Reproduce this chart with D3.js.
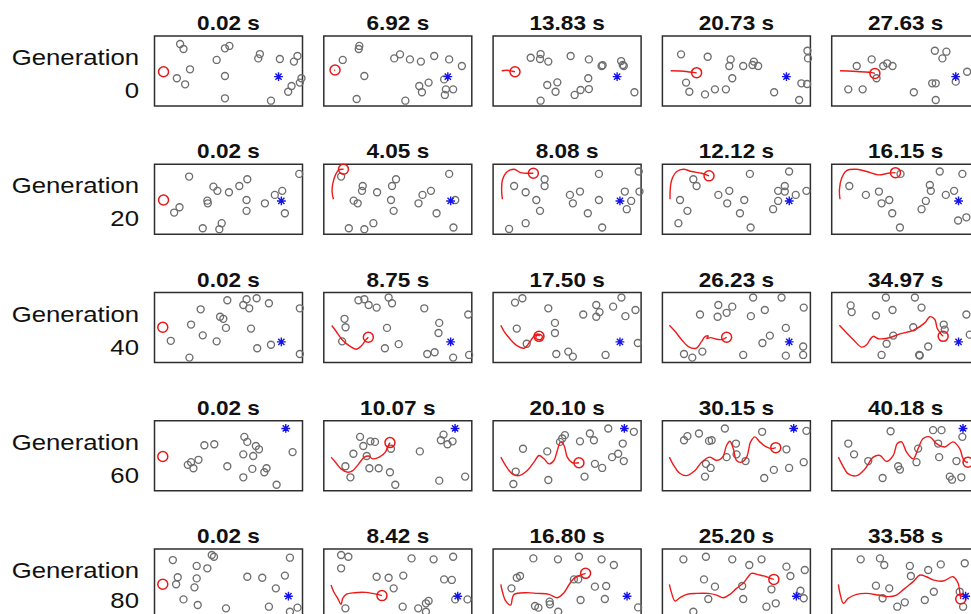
<!DOCTYPE html>
<html><head><meta charset="utf-8">
<script src="https://cdn.jsdelivr.net/npm/d3@7"></script>
<style>body{margin:0;background:#fff}svg{display:block}</style>
</head><body>
<svg id="c" width="971" height="614"></svg>
<script>
const generations = [0, 20, 40, 60, 80];
const timeLabels = [
  ["0.02 s","6.92 s","13.83 s","20.73 s","27.63 s"],
  ["0.02 s","4.05 s","8.08 s","12.12 s","16.15 s"],
  ["0.02 s","8.75 s","17.50 s","26.23 s","34.97 s"],
  ["0.02 s","10.07 s","20.10 s","30.15 s","40.18 s"],
  ["0.02 s","8.42 s","16.80 s","25.20 s","33.58 s"]
];
const targets = [[8.38,2.10],[8.57,2.38],[8.57,1.47],[8.87,4.45],[9.05,1.63]];

const obstaclesG0 = [
  [[1.73,4.43],[1.96,4.07],[2.40,2.62],[1.51,1.98],[2.07,1.55],[4.20,3.29],[4.76,4.12],[5.06,4.29],[4.76,2.14],[4.76,0.55],[7.01,3.40],[7.12,3.71],[8.47,3.36],[9.42,3.17],[9.66,3.57],[9.93,1.98],[9.82,1.67],[9.26,1.43],[9.03,1.02],[7.87,0.38]],
  [[2.40,4.29],[2.36,4.07],[1.28,3.29],[2.74,2.14],[2.22,0.50],[4.76,3.40],[5.15,3.69],[5.82,3.33],[6.56,3.17],[7.46,3.57],[8.47,3.33],[9.33,2.86],[8.13,1.90],[6.45,1.43],[7.08,1.67],[6.63,0.98],[8.25,1.19],[8.74,1.19],[8.18,0.79],[5.51,0.38]],
  [[2.54,3.45],[3.21,3.71],[3.17,3.36],[3.73,3.17],[5.24,3.57],[6.47,3.33],[7.33,2.86],[7.40,2.91],[8.65,3.21],[8.76,2.93],[8.83,2.86],[3.66,1.50],[4.34,1.69],[4.22,1.02],[3.21,0.38],[6.43,1.98],[6.47,1.21],[5.91,1.14],[5.51,0.79],[9.55,0.98]],
  [[1.26,3.69],[3.06,3.52],[4.61,3.33],[4.52,2.86],[5.46,2.86],[6.18,3.17],[6.47,2.86],[6.09,2.93],[9.80,3.95],[9.84,3.40],[1.60,1.67],[1.82,1.02],[2.88,0.83],[3.55,1.19],[4.29,1.19],[4.72,1.98],[7.55,0.98],[9.39,1.62],[9.78,1.57],[9.24,0.43]],
  [[1.69,2.86],[2.70,3.33],[3.48,2.86],[3.75,3.05],[4.11,2.86],[3.03,1.98],[6.97,3.95],[7.75,3.88],[7.48,3.40],[8.38,1.74],[9.15,2.45],[1.12,1.19],[2.09,1.19],[5.55,0.98],[6.79,1.62],[7.03,1.62],[7.03,0.43]]
];
const obstaclesG20 = [
  [[2.34,4.12],[3.98,3.40],[4.25,3.10],[5.03,3.00],[5.73,3.45],[6.27,3.93],[9.78,4.31],[8.63,3.10],[8.13,2.81],[8.81,1.50],[7.46,2.21],[6.22,2.45],[6.22,1.67],[3.57,2.40],[3.60,2.21],[1.69,1.93],[1.33,1.55],[4.54,0.79],[4.38,0.36],[3.26,0.43]],
  [[1.17,4.12],[2.63,3.45],[2.58,3.10],[3.60,3.00],[4.61,3.45],[4.88,3.93],[4.54,2.45],[4.72,1.67],[2.02,2.40],[2.29,2.21],[6.67,2.81],[7.24,3.10],[6.40,2.21],[7.62,1.50],[8.47,4.31],[8.88,2.45],[8.76,0.48],[3.35,0.79],[2.74,0.36],[1.69,0.43]],
  [[3.48,3.93],[3.48,3.45],[1.42,3.45],[2.20,3.00],[2.92,2.45],[3.17,1.67],[2.20,0.79],[1.08,0.38],[7.15,4.31],[5.19,2.81],[5.39,2.21],[5.87,3.05],[7.15,2.45],[6.40,1.50],[7.37,0.48],[8.90,3.05],[9.33,2.38],[9.03,1.79],[9.84,4.48],[9.89,3.05]],
  [[2.09,3.93],[2.31,3.45],[1.19,2.45],[1.69,1.67],[1.08,0.79],[3.78,2.81],[4.52,3.10],[4.38,2.21],[5.53,2.45],[5.24,1.50],[5.96,0.48],[5.91,4.31],[8.56,4.48],[8.27,3.45],[7.82,3.10],[8.27,3.05],[9.01,2.81],[7.82,2.38],[7.48,1.79],[9.73,3.10]],
  [[4.65,4.31],[1.19,3.45],[2.31,2.81],[3.19,3.05],[3.37,2.21],[3.89,2.45],[4.09,1.50],[4.61,0.48],[7.30,4.48],[8.83,4.31],[6.63,3.52],[6.70,3.10],[6.36,2.38],[6.07,1.79],[7.71,2.81],[8.27,3.10],[9.10,1.21],[8.54,0.98]]
];
const obstaclesG40 = [
  [[1.10,1.55],[2.36,0.35],[2.47,2.71],[3.12,3.80],[3.26,1.94],[4.20,1.51],[4.43,3.27],[4.65,3.12],[4.83,2.47],[4.92,4.45],[6.00,4.11],[6.40,3.87],[6.22,4.52],[6.90,4.59],[7.73,4.23],[6.52,2.42],[6.94,1.02],[7.87,1.27],[9.82,3.87],[9.82,0.61]],
  [[1.40,3.12],[1.47,2.52],[1.24,1.51],[2.34,4.45],[2.74,4.52],[3.03,4.11],[3.57,3.92],[4.38,4.64],[4.61,4.23],[4.27,2.47],[4.13,1.02],[5.06,1.31],[6.79,3.87],[7.80,2.83],[7.75,2.11],[6.99,0.61],[7.49,0.73],[8.74,0.35],[9.76,3.43],[9.82,0.54]],
  [[1.48,4.28],[1.98,4.59],[1.60,2.42],[2.27,1.34],[3.73,3.87],[4.18,2.83],[4.18,2.11],[4.27,0.61],[5.08,0.78],[5.39,0.42],[6.09,3.43],[6.97,4.11],[7.19,3.60],[6.97,3.27],[8.11,3.99],[8.67,4.64],[8.94,3.31],[9.62,3.75],[7.60,0.54],[9.78,1.39]],
  [[1.46,0.61],[2.02,0.35],[2.70,0.78],[2.54,3.43],[3.78,4.11],[3.73,3.27],[4.34,3.55],[4.72,3.99],[6.13,4.64],[5.98,3.31],[6.92,3.75],[8.05,4.64],[9.55,3.92],[8.34,2.47],[7.26,1.92],[6.76,1.39],[5.46,0.54],[8.34,0.49],[9.51,1.14],[9.51,0.54]],
  [[1.28,4.08],[1.35,3.60],[2.99,3.36],[3.66,4.64],[4.11,3.75],[5.62,4.64],[6.07,3.92],[4.16,1.92],[3.71,1.34],[5.51,2.52],[3.37,0.54],[5.91,0.54],[5.95,0.50],[6.52,1.14],[7.57,2.71],[7.64,2.35],[9.10,3.43],[9.33,1.99]]
];
const obstaclesG60 = [
  [[3.37,3.25],[4.04,3.32],[2.25,1.85],[2.47,2.04],[2.97,2.21],[2.63,1.61],[4.92,1.75],[6.07,3.85],[6.27,3.49],[6.85,3.20],[7.06,2.96],[6.00,2.60],[6.67,2.48],[6.61,1.56],[7.57,1.61],[7.42,1.32],[6.00,0.96],[8.25,0.43],[9.33,2.76]],
  [[2.45,3.85],[2.67,3.20],[3.15,3.53],[3.46,3.49],[2.00,2.64],[2.90,2.48],[1.46,1.75],[1.80,0.96],[3.08,1.61],[3.71,1.61],[4.47,1.32],[4.83,0.43],[4.54,3.00],[6.49,2.81],[8.09,4.01],[7.91,3.61],[8.36,3.32],[8.70,3.53],[7.80,0.72],[9.55,1.01]],
  [[2.02,3.00],[1.53,1.37],[1.37,0.48],[3.66,2.81],[3.73,0.77],[4.52,3.49],[4.67,3.73],[4.85,3.97],[5.87,3.53],[6.54,4.09],[6.81,3.61],[7.78,4.45],[9.51,4.21],[8.76,3.37],[8.45,2.64],[8.04,2.40],[8.83,2.12],[6.88,1.92],[7.37,1.63],[6.18,1.01]],
  [[1.46,3.61],[1.69,3.90],[2.47,4.09],[3.15,3.56],[3.33,3.61],[4.22,4.45],[4.97,3.37],[4.34,2.40],[5.01,2.60],[5.62,2.12],[2.94,1.92],[3.26,1.63],[2.88,1.01],[6.74,4.21],[8.38,2.96],[9.73,4.28],[9.55,2.04],[8.56,1.63],[7.53,1.49],[6.88,0.91]],
  [[1.12,3.37],[1.51,2.60],[2.47,2.12],[3.44,0.91],[4.49,1.75],[4.61,1.51],[3.98,4.25],[5.73,2.04],[5.84,3.01],[6.85,4.33],[7.42,4.33],[7.19,3.37],[7.26,2.40],[7.98,1.01],[8.13,0.79],[8.83,3.85],[8.43,2.12],[8.76,0.96]]
];
const obstaclesG80 = [
  [[1.24,4.21],[3.87,4.57],[4.02,4.45],[2.85,3.79],[3.57,3.62],[1.57,2.98],[1.46,2.48],[2.85,2.90],[2.70,2.26],[1.96,1.40],[2.92,1.00],[4.83,0.76],[6.27,3.02],[7.28,2.95],[8.81,3.10],[9.15,4.38],[8.20,2.19],[7.73,0.88],[9.66,0.81],[9.15,0.52]],
  [[1.17,4.57],[1.66,4.45],[1.17,3.62],[1.46,0.76],[3.57,3.02],[4.38,2.95],[5.37,3.10],[4.72,2.19],[5.93,4.33],[7.42,4.26],[8.74,4.45],[8.13,2.83],[8.65,2.79],[5.33,0.88],[6.38,0.76],[6.90,1.12],[7.08,1.29],[6.90,0.52],[8.88,1.40],[9.71,1.40]],
  [[2.72,4.33],[4.38,4.26],[5.80,4.45],[7.33,4.26],[8.16,3.86],[1.60,2.95],[1.82,3.07],[1.24,2.19],[5.46,2.83],[5.75,2.83],[6.88,2.31],[7.64,2.36],[3.82,1.24],[3.84,1.05],[2.83,0.93],[3.06,0.81],[5.91,1.36],[7.55,1.43],[4.40,0.52],[9.80,0.83]],
  [[1.42,4.26],[2.94,4.45],[4.72,4.26],[6.70,4.26],[5.87,3.86],[8.38,3.74],[8.65,3.07],[9.62,3.50],[2.81,2.83],[3.55,2.31],[5.39,2.36],[3.10,1.43],[5.46,1.43],[7.37,2.12],[7.03,0.88],[7.66,1.12],[2.09,0.52],[9.33,2.02],[9.55,1.48]],
  [[1.96,4.26],[3.26,4.33],[3.55,3.86],[5.28,3.79],[5.35,3.07],[6.52,3.50],[7.37,3.90],[2.99,2.38],[3.89,2.19],[3.44,1.48],[4.43,0.88],[4.94,1.19],[6.29,1.36],[6.90,1.95],[8.99,3.98],[8.65,1.95],[8.88,0.88]]
];
const obstacles = [obstaclesG0, obstaclesG20, obstaclesG40, obstaclesG60, obstaclesG80];

const agentsG0  = [[0.61,2.45],[0.76,2.57],[1.48,2.45],[2.31,2.38],[2.92,2.33]];
const agentsG20 = [[0.61,2.45],[1.33,4.64],[2.72,4.36],[3.15,4.17],[4.31,4.40]];
const agentsG40 = [[0.56,2.52],[3.01,1.80],[3.10,1.87],[4.34,1.80],[7.53,1.87]];
const agentsG60 = [[0.56,2.45],[4.47,3.44],[5.80,2.00],[7.66,3.08],[9.21,2.04]];
const agentsG80 = [[0.56,2.48],[3.93,1.67],[6.25,3.26],[7.53,2.83],[8.72,1.43]];
const agents = [agentsG0, agentsG20, agentsG40, agentsG60, agentsG80];

const pathsG0 = [
  [],
  [[0.70,2.55],[0.76,2.57]],
  [[0.58,2.52],[0.97,2.55],[1.30,2.48],[1.48,2.45]],
  [[0.56,2.52],[1.19,2.50],[2.09,2.40],[2.31,2.38]],
  [[0.56,2.52],[1.46,2.48],[2.70,2.38],[2.92,2.33]]
];
const pathsG20 = [
  [],
  [[0.65,2.50],[0.56,3.05],[0.61,3.64],[0.79,4.24],[1.01,4.60],[1.33,4.64]],
  [[0.63,2.50],[0.58,3.05],[0.63,3.88],[0.97,4.48],[1.42,4.64],[1.87,4.40],[2.43,4.36],[2.72,4.36]],
  [[0.52,2.50],[0.52,3.05],[0.63,3.88],[0.97,4.48],[1.42,4.64],[1.98,4.48],[2.65,4.36],[2.97,4.24],[3.15,4.17]],
  [[0.56,2.50],[0.52,3.17],[0.67,4.00],[1.01,4.55],[1.69,4.64],[2.36,4.48],[3.15,4.24],[3.82,4.36],[4.31,4.40]]
];
const pathsG40 = [
  [],
  [[0.54,2.64],[0.83,2.23],[1.24,1.63],[1.73,1.19],[2.18,0.95],[2.54,1.19],[2.81,1.58],[3.01,1.80]],
  [[0.52,2.66],[0.74,2.23],[1.19,1.63],[1.64,1.19],[2.09,1.02],[2.43,1.39],[2.70,1.80],[2.99,2.04],[3.33,1.87],[3.21,1.63],[2.88,1.75],[3.00,1.95],[3.15,1.90]],
  [[0.47,2.66],[0.85,2.23],[1.30,1.63],[1.75,1.14],[2.27,1.02],[2.65,1.51],[2.88,1.85],[3.10,1.90],[3.00,1.72],[3.25,1.78],[3.66,1.66],[4.07,1.65],[4.34,1.80]],
  [[0.52,2.66],[0.90,2.23],[1.46,1.63],[2.02,1.10],[2.36,1.27],[2.63,1.70],[2.81,1.87],[3.15,1.70],[3.82,1.75],[4.61,2.04],[5.51,2.30],[6.29,2.83],[6.63,3.27],[6.97,3.07],[7.12,2.47],[7.42,1.99],[7.53,1.87]]
];
const pathsG60 = [
  [],
  [[0.49,2.40],[0.79,2.04],[1.17,1.56],[1.62,1.32],[1.96,1.44],[2.36,1.92],[2.74,2.40],[3.03,2.48],[3.30,2.28],[3.75,2.40],[4.16,2.76],[4.31,3.13],[4.47,3.44]],
  [[0.52,2.40],[0.85,1.80],[1.30,1.20],[1.75,1.08],[2.31,1.44],[2.76,2.04],[3.10,2.52],[3.44,2.28],[3.78,1.92],[4.11,2.16],[4.34,2.88],[4.56,3.49],[4.79,3.25],[5.01,2.40],[5.35,2.00],[5.80,2.00]],
  [[0.47,2.40],[0.74,1.85],[1.15,1.27],[1.64,1.08],[2.20,1.44],[2.65,2.04],[3.21,2.40],[3.66,2.16],[4.07,2.40],[4.34,3.25],[4.56,3.54],[4.79,3.00],[5.01,2.16],[5.35,2.04],[5.69,2.40],[5.96,3.49],[6.25,3.85],[6.58,3.49],[7.03,3.13],[7.37,3.01],[7.66,3.08]],
  [[0.45,2.40],[0.74,1.80],[1.12,1.20],[1.69,1.08],[2.25,1.56],[2.81,2.40],[3.26,2.52],[3.71,2.09],[4.16,2.52],[4.43,3.37],[4.72,3.49],[5.06,2.76],[5.51,2.28],[5.84,3.01],[6.18,3.73],[6.63,3.85],[7.08,3.37],[7.64,3.13],[8.20,3.49],[8.65,3.01],[8.88,2.28],[9.10,2.04],[9.21,2.04]]
];
const pathsG80 = [
  [],
  [[0.49,2.43],[0.67,1.95],[0.94,1.48],[1.17,1.05],[1.28,1.48],[1.51,1.76],[2.07,1.88],[2.85,1.90],[3.62,1.76],[3.93,1.67]],
  [[0.52,2.48],[0.63,1.95],[0.85,1.29],[1.19,1.00],[1.30,1.48],[1.42,1.76],[2.20,1.88],[2.99,1.83],[3.78,1.76],[4.34,1.52],[4.79,1.88],[5.12,2.43],[5.46,2.90],[5.91,3.14],[6.25,3.26]],
  [[0.47,2.48],[0.63,1.83],[0.85,1.29],[1.19,1.52],[1.64,1.76],[2.31,1.83],[3.10,1.83],[3.66,1.71],[4.11,1.52],[4.56,1.76],[5.01,2.19],[5.46,2.55],[5.80,3.02],[6.02,3.26],[6.58,3.14],[7.03,3.02],[7.30,2.90],[7.53,2.83]],
  [[0.45,2.48],[0.56,1.83],[0.79,1.12],[1.12,1.48],[1.69,1.76],[2.36,1.83],[3.15,1.71],[3.82,1.60],[4.38,1.71],[4.94,2.19],[5.51,2.67],[5.96,3.14],[6.40,3.02],[6.85,2.79],[7.53,2.71],[8.20,3.02],[8.54,2.55],[8.65,1.95],[8.72,1.43]]
];
const paths = [pathsG0, pathsG20, pathsG40, pathsG60, pathsG80];

// layout
const panelW = 148, panelH = 70;
const left0 = 154.5, colStep = 169.3, top0 = 36, rowStep = 128.25;
const x = d3.scaleLinear().domain([0, 10]).range([0, panelW]);
const y = d3.scaleLinear().domain([0, 5]).range([panelH, 0]);
const line = d3.line().x(d => x(d[0])).y(d => y(d[1])).curve(d3.curveCatmullRom.alpha(0.5));

const svg = d3.select("#c");
const font = "'Liberation Sans', Arial, Helvetica, sans-serif";
const sx = 1.17;

generations.forEach((g, r) => {
  const top = top0 + r * rowStep;
  svg.append("text").attr("transform", `translate(139,${top + 29}) scale(${sx},1)`)
    .attr("text-anchor", "end").attr("font-family", font).attr("font-size", 22).attr("fill", "#111")
    .text("Generation");
  svg.append("text").attr("transform", `translate(139,${Math.min(top + 62, 608)}) scale(${sx},1)`)
    .attr("text-anchor", "end").attr("font-family", font).attr("font-size", 22).attr("fill", "#111")
    .text(g);

  for (let c = 0; c < 5; c++) {
    const left = left0 + c * colStep;
    const p = svg.append("g").attr("transform", `translate(${left},${top})`);
    p.append("text").attr("transform", `translate(${panelW / 2},-6) scale(1.13,1)`)
      .attr("text-anchor", "middle").attr("font-family", font).attr("font-weight", "bold")
      .attr("font-size", 20).attr("fill", "#111").text(timeLabels[r][c]);
    p.append("rect").attr("x", 0).attr("y", 0).attr("width", panelW).attr("height", panelH)
      .attr("fill", "#fff").attr("stroke", "#2e2e2e").attr("stroke-width", 1.5);

    p.selectAll("circle.obs").data(obstacles[r][c]).join("circle").attr("class", "obs")
      .attr("cx", d => x(d[0])).attr("cy", d => y(d[1])).attr("r", 3.5)
      .attr("fill", "none").attr("stroke", "#6e6e6e").attr("stroke-width", 1.35);

    const tr = paths[r][c];
    if (tr.length > 1) {
      p.append("path").attr("d", line(tr)).attr("fill", "none")
        .attr("stroke", "#ee1a1a").attr("stroke-width", 1.4);
    }
    const a = agents[r][c];
    p.append("circle").attr("cx", x(a[0])).attr("cy", y(a[1])).attr("r", 5)
      .attr("fill", "none").attr("stroke", "#e81818").attr("stroke-width", 1.5);

    const t = targets[r];
    const h = 4.4, dd = 3.1;
    p.append("path")
      .attr("transform", `translate(${x(t[0])},${y(t[1])})`)
      .attr("d", `M${-h},0H${h}M0,${-h}V${h}M${-dd},${-dd}L${dd},${dd}M${-dd},${dd}L${dd},${-dd}`)
      .attr("stroke", "#1414e6").attr("stroke-width", 1.4).attr("fill", "none");
  }
});
</script>
</body></html>
